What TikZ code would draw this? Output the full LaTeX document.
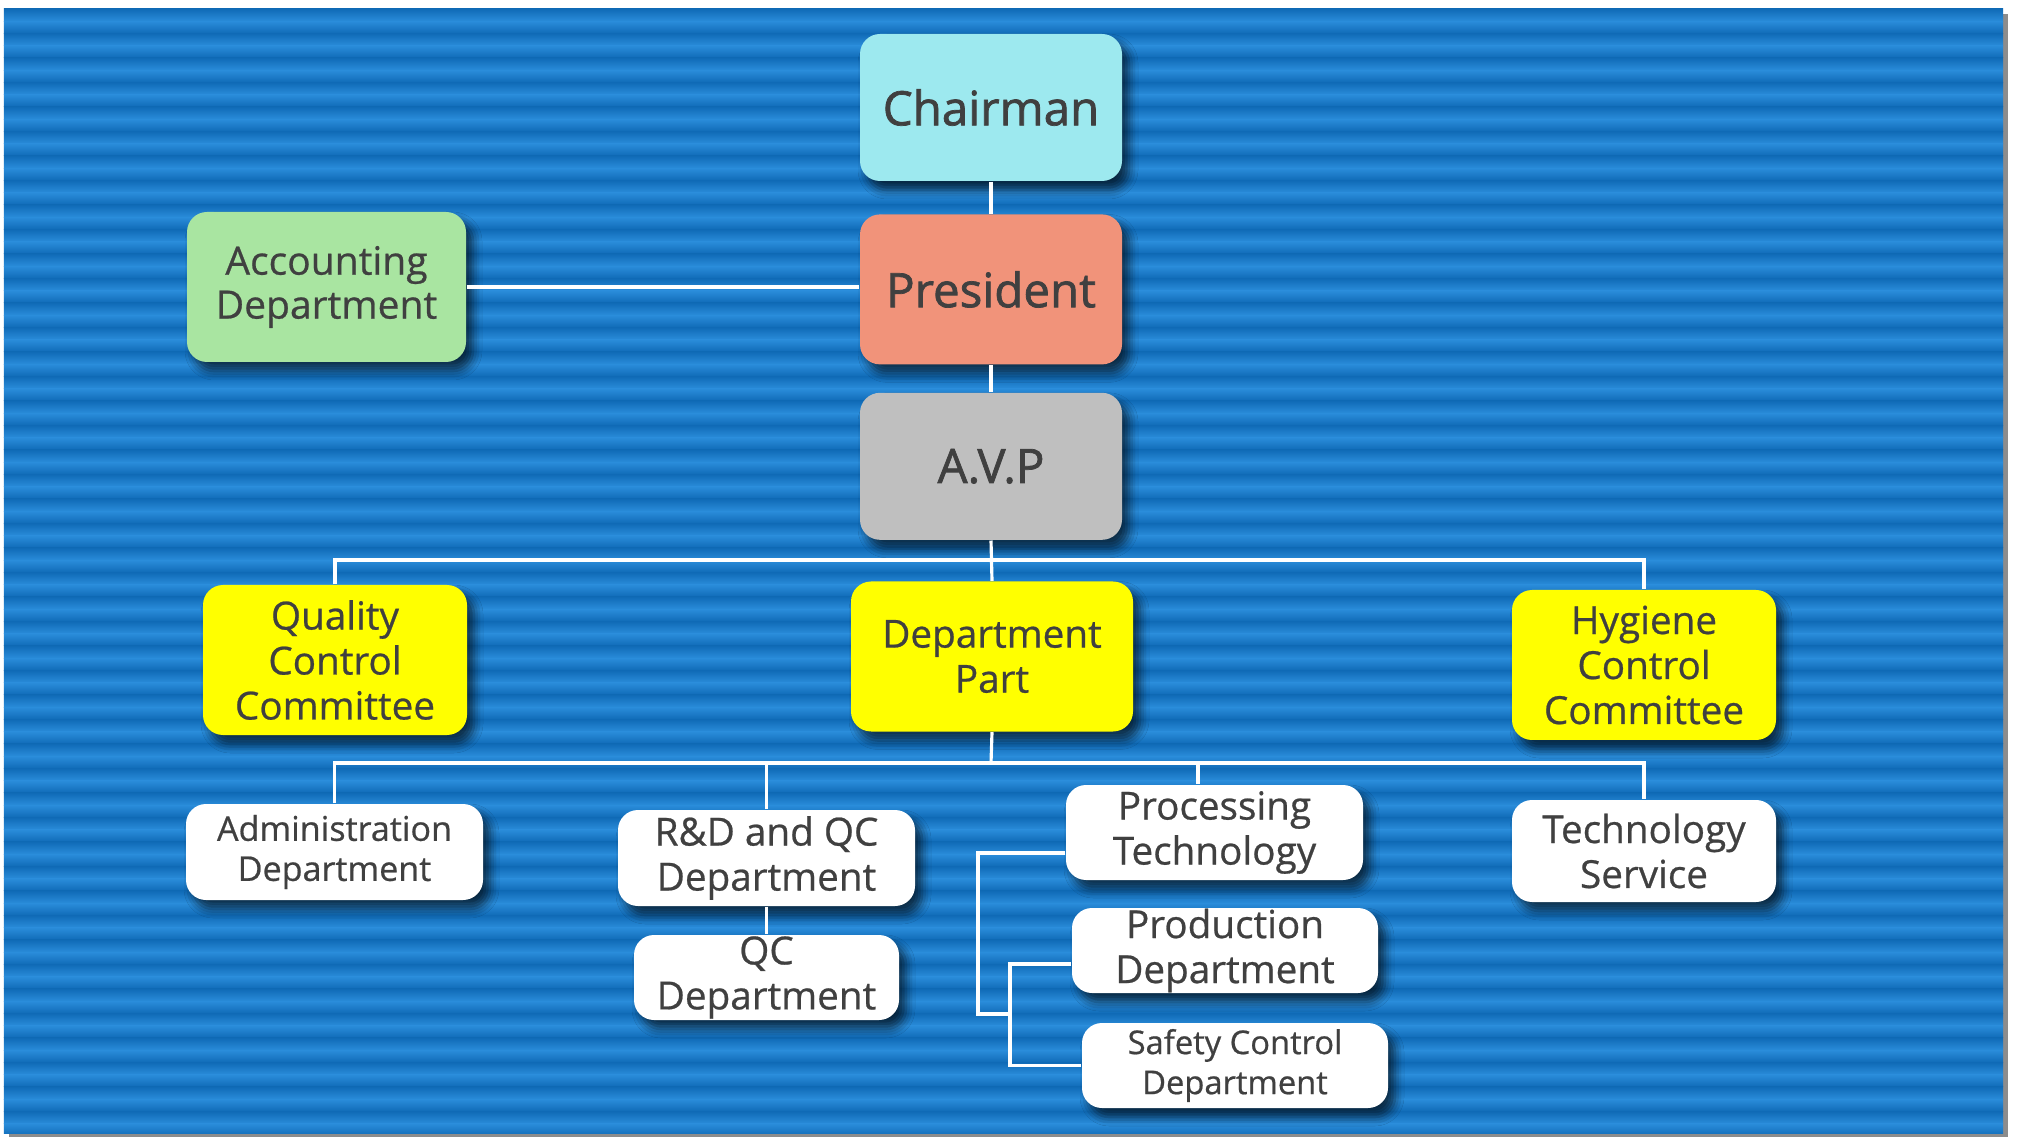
\documentclass[tikz,border=0pt]{standalone}
\usepackage{fontspec}
\setmainfont{Open Sans}[FakeBold=0.6]
\newfontfamily\headfont{Open Sans}[FakeBold=1.5]
\usepackage{xcolor}
\usepackage{tikz}
\usetikzlibrary{positioning, calc, shadows.blur}

\definecolor{bgdark}{HTML}{106BB7}
\definecolor{bglight}{HTML}{2A8CDA}
\definecolor{txt}{HTML}{404040}
\definecolor{chaircol}{HTML}{9DE9EF}
\definecolor{prescol}{HTML}{F1937A}
\definecolor{avpcol}{HTML}{BFBFBF}
\definecolor{acctcol}{HTML}{A9E5A1}
\definecolor{yel}{HTML}{FFFF00}

\begin{document}
\begin{tikzpicture}[
    orgbox/.style={rounded corners=0.2cm, align=center, text=txt, inner sep=0pt,
      blur shadow={shadow xshift=0.07cm, shadow yshift=-0.09cm, shadow blur radius=0.09cm, shadow opacity=65}},
    headbox/.style={orgbox, minimum width=2.62cm, minimum height=1.47cm,
      font=\headfont\fontsize{13.5}{16}\selectfont},
    yelbox/.style={orgbox, fill=yel, minimum height=1.5cm, font=\fontsize{11}{12.8}\selectfont},
    unitbox/.style={orgbox, fill=white, font=\fontsize{11}{12.8}\selectfont},
    link/.style={white, line width=0.9pt}]
    \useasboundingbox (0,0) rectangle (20.18,-11.44);

    % Background
    \fill[white] (0,0) rectangle (20.18,-11.44);
    \fill[black!45] (0.09,-0.14) rectangle (20.08,-11.37);
    \begin{scope}
      \clip (0.04,-0.09) rectangle (20.03,-11.33);
      \foreach \i in {0,...,46} {
        \shade[top color=bgdark, bottom color=bglight] (0.04,{-0.09-\i*0.245}) rectangle (20.03,{-0.09-\i*0.245-0.1225});
        \shade[top color=bglight, bottom color=bgdark] (0.04,{-0.09-\i*0.245-0.1225}) rectangle (20.03,{-0.09-(\i+1)*0.245});
      }
    \end{scope}

    % Top of the chart
    \node[headbox, fill=chaircol] (chair) at (9.91,-1.075) {Chairman};
    \node[headbox, fill=prescol, minimum height=1.5cm, below=0.32cm of chair] (pres) {President};
    \node[headbox, fill=avpcol, below=0.27cm of pres] (avp) {A.V.P};
    \node[orgbox, fill=acctcol, minimum width=2.79cm, minimum height=1.5cm,
      font=\fontsize{11.1}{12.5}\selectfont] (acct) at (3.265,-2.87) {Accounting\\Department};

    % Second level
    \node[yelbox, minimum width=2.64cm] (qcc) at (3.35,-6.60) {Quality\\Control\\Committee};
    \node[yelbox, minimum width=2.82cm] (dept) at (9.92,-6.565) {Department\\Part};
    \node[yelbox, minimum width=2.64cm] (hyg) at (16.44,-6.65) {Hygiene\\Control\\Committee};

    % Departments
    \node[unitbox, minimum width=2.97cm, minimum height=0.96cm,
      font=\fontsize{9.7}{11.4}\selectfont] (admin) at (3.345,-8.52) {Administration\\Department};
    \node[unitbox, minimum width=2.97cm, minimum height=0.96cm] (rnd) at (7.665,-8.58) {R\&D and QC\\Department};
    \node[unitbox, minimum width=2.65cm, minimum height=0.85cm] (qcd) at (7.665,-9.775) {QC\\Department};
    \node[unitbox, minimum width=2.97cm, minimum height=0.95cm] (proc) at (12.145,-8.325) {Processing\\Technology};
    \node[unitbox, minimum width=3.06cm, minimum height=0.85cm] (prod) at (12.25,-9.505) {Production\\Department};
    \node[unitbox, minimum width=3.06cm, minimum height=0.85cm,
      font=\fontsize{9.3}{11.4}\selectfont] (safe) at (12.35,-10.655) {Safety Control\\Department};
    \node[unitbox, minimum width=2.64cm, minimum height=1.02cm] (tech) at (16.44,-8.51) {Technology\\Service};

    % Bus lines and taps
    \coordinate (bus1) at (9.91,-5.60);
    \coordinate (bus2) at (9.91,-7.63);
    \coordinate (procin) at (11.98,-7.63);
    \coordinate (tapA) at (9.78,-8.53);
    \coordinate (tapB) at (10.10,-10.14);
    \coordinate (tapC) at (10.10,-9.64);

    % Lines
    \draw[link] (chair) -- (pres);
    \draw[link] (pres) -- (avp);
    \draw[link] (acct.east) -- (pres.west |- acct.east);
    \draw[link] (avp.south) -- (dept.north);
    \draw[link] (qcc.north) |- (bus1) -| (hyg.north);
    \draw[link] (dept.south) -- (bus2);
    \draw[link] (admin.north) |- (bus2) -| (tech.north);
    \draw[link] (rnd.north) -- (rnd.north |- bus2);
    \draw[link] (procin) -- (procin |- proc.north);
    \draw[link] (rnd.south) -- (qcd.north);
    \draw[link] (proc.west |- tapA) -- (tapA) |- (tapB);
    \draw[link] (prod.west |- tapC) -- (tapC) |- (safe.west);
\end{tikzpicture}
\end{document}
